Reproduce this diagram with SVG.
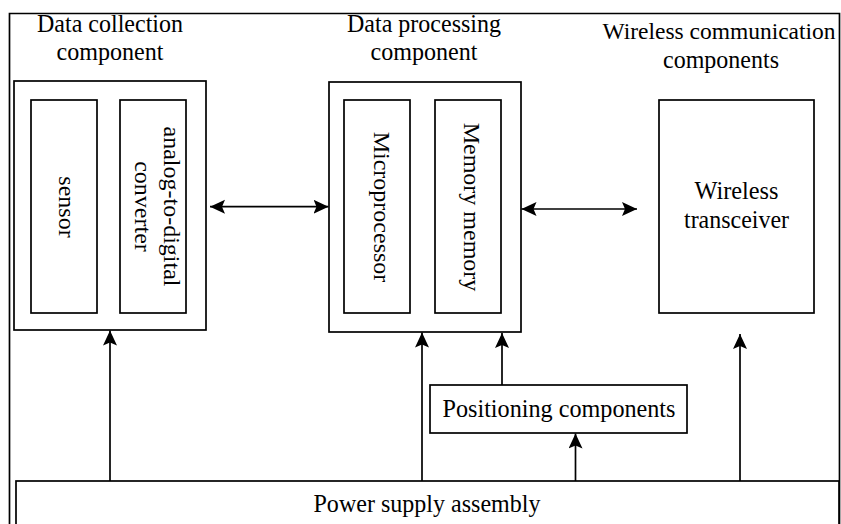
<svg xmlns="http://www.w3.org/2000/svg" width="841" height="524" viewBox="0 0 841 524">
<style>
.box{fill:#fff;stroke:#000;stroke-width:1.7}
.t{font-family:"Liberation Serif","Times New Roman",serif;font-size:25px;fill:#000;text-anchor:middle}
.r{font-size:24px}
.c{stroke:#000;stroke-width:1.7;fill:none}
</style>
<defs>
<marker id="ah" markerUnits="userSpaceOnUse" markerWidth="16" markerHeight="15" refX="15" refY="7" orient="auto-start-reverse">
<path d="M0,0 L15,7 L0,14 L3,7 z" fill="#000"/>
</marker>
</defs>
<rect width="841" height="524" fill="#fff"/>
<g id="frame">
<path d="M9.5,530 V13.5 H839.5 V530" class="c"/>
</g>
<g id="collection">
<text class="t" x="110" y="32" textLength="146" lengthAdjust="spacingAndGlyphs">Data collection</text>
<text class="t" x="110" y="60" textLength="107" lengthAdjust="spacingAndGlyphs">component</text>
<rect class="box" x="14" y="81" width="192" height="249"/>
</g>
<g id="sensor">
<rect class="box" x="31" y="100" width="66" height="213"/>
<text class="t r" transform="translate(58.5,207) rotate(90)">sensor</text>
</g>
<g id="adc">
<rect class="box" x="120" y="100" width="66" height="213"/>
<text class="t r" transform="translate(164,206.5) rotate(90)">analog-to-digital</text>
<text class="t r" transform="translate(134.5,206.5) rotate(90)">converter</text>
</g>
<g id="processing">
<text class="t" x="424" y="32" textLength="154" lengthAdjust="spacingAndGlyphs">Data processing</text>
<text class="t" x="424" y="60" textLength="107" lengthAdjust="spacingAndGlyphs">component</text>
<rect class="box" x="329" y="82" width="192" height="250"/>
</g>
<g id="microprocessor">
<rect class="box" x="344" y="100" width="66" height="213"/>
<text class="t r" transform="translate(374,207) rotate(90)">Microprocessor</text>
</g>
<g id="memory">
<rect class="box" x="435" y="100" width="66" height="213"/>
<text class="t r" transform="translate(463.5,207) rotate(90)">Memory memory</text>
</g>
<g id="wireless">
<text class="t r" x="719" y="39" textLength="233" lengthAdjust="spacingAndGlyphs">Wireless communication</text>
<text class="t" x="721" y="68" textLength="116" lengthAdjust="spacingAndGlyphs">components</text>
</g>
<g id="transceiver">
<rect class="box" x="659" y="100" width="155" height="213"/>
<text class="t" x="736.5" y="199" textLength="84" lengthAdjust="spacingAndGlyphs">Wireless</text>
<text class="t" x="736.5" y="228" textLength="105" lengthAdjust="spacingAndGlyphs">transceiver</text>
</g>
<g id="positioning">
<rect class="box" x="430" y="385" width="257" height="48"/>
<text class="t" x="559" y="417" textLength="233" lengthAdjust="spacingAndGlyphs">Positioning components</text>
</g>
<g id="power">
<rect class="box" x="16" y="481" width="823" height="60"/>
<text class="t" x="427" y="512" textLength="227" lengthAdjust="spacingAndGlyphs">Power supply assembly</text>
</g>
<g id="connectors">
<line class="c" x1="210" y1="206.7" x2="328.5" y2="206.7" marker-start="url(#ah)" marker-end="url(#ah)"/>
<line class="c" x1="521.5" y1="209" x2="637" y2="209" marker-start="url(#ah)" marker-end="url(#ah)"/>
<line class="c" x1="110" y1="481" x2="110" y2="330.5" marker-end="url(#ah)"/>
<line class="c" x1="422" y1="481" x2="422" y2="332.5" marker-end="url(#ah)"/>
<line class="c" x1="502" y1="385" x2="502" y2="333" marker-end="url(#ah)"/>
<line class="c" x1="575.5" y1="481" x2="575.5" y2="433.5" marker-end="url(#ah)"/>
<line class="c" x1="740" y1="481" x2="740" y2="334" marker-end="url(#ah)"/>
</g>
</svg>
